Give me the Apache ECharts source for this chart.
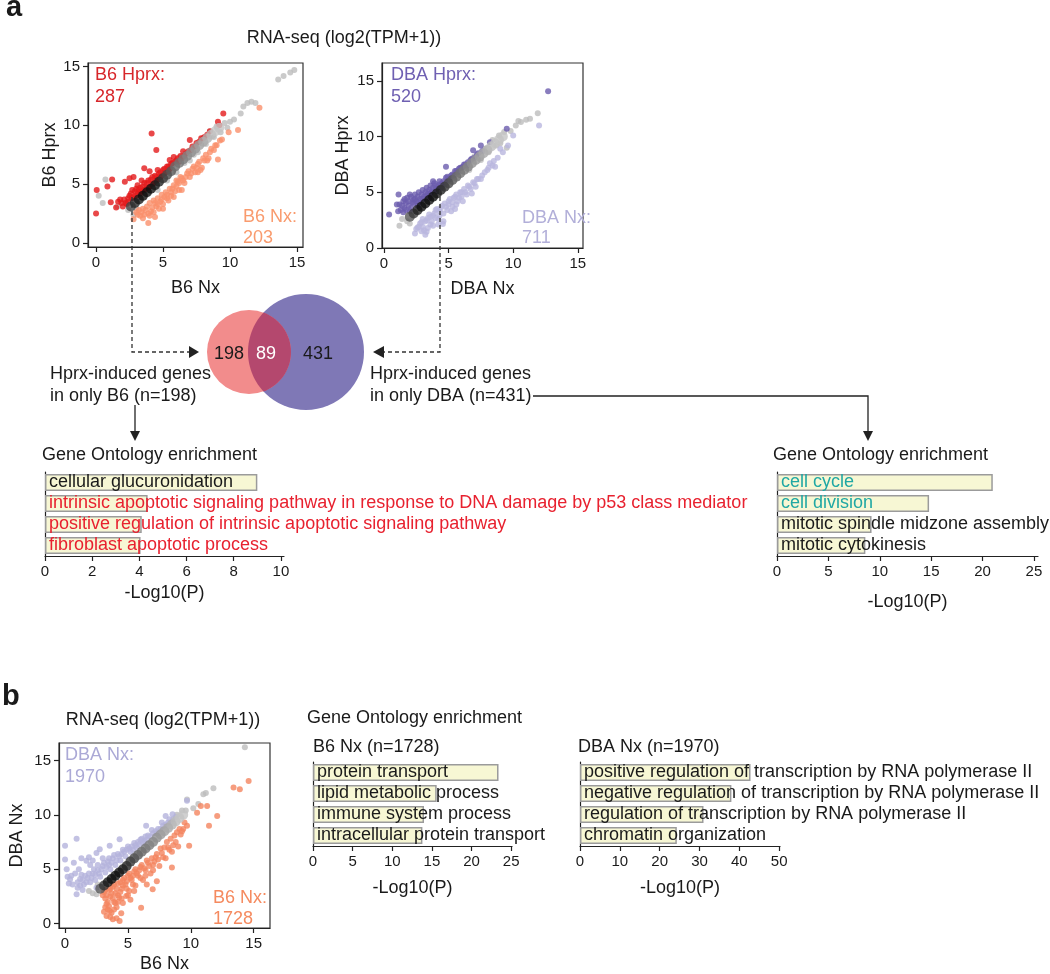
<!DOCTYPE html>
<html>
<head>
<meta charset="utf-8">
<script src="https://cdn.jsdelivr.net/npm/echarts@6/dist/echarts.min.js"></script>
<style>
  html, body { margin: 0; padding: 0; background: #fff; }
  #main { width: 1050px; height: 974px; }
</style>
</head>
<body>
<div id="main"></div>
<script>
// ---- data ----
var scatterTicks = [0, 5, 10, 15];

// a: B6 Hprx vs B6 Nx
var b6Gray = [[0.2,4.0],[0.5,3.4],[0.7,5.4],[1.6,3.1],[2.4,2.8],[2.8,2.4],[3.0,2.9],[3.4,4.4],[6.0,6.0],[6.6,6.8],[7.0,7.0],[7.3,7.5],[7.6,7.7],[7.9,8.8],[8.2,8.4],[8.5,9.5],[8.8,9.0],[9.0,9.9],[9.3,9.4],[9.6,10.2],[9.8,9.8],[10.0,10.3],[10.3,10.5],[10.8,11.0],[11.0,11.6],[11.3,11.9],[11.6,12.0],[11.9,11.9],[13.6,13.9],[14.0,14.2],[14.5,14.5],[14.8,14.7],[5.3,5.3],[5.7,6.6],[4.6,4.5],[6.3,7.3]];
var b6Up = [[0,2.5],[0.05,4.5],[0.85,4.8],[1.1,3.45],[1.2,5.4],[1.65,3.5],[1.9,3.4],[2.1,3.7],[2.15,5.2],[2.3,3.3],[2.5,5.5],[2.4,3.8],[2.6,4.2],[2.8,5.6],[2.7,3.8],[2.9,4.4],[3.0,4.0],[3.1,4.9],[3.2,4.5],[3.3,4.2],[3.4,5.3],[3.5,4.8],[3.6,6.35],[3.6,4.5],[3.8,5.1],[3.9,4.7],[4.0,6.1],[4.1,5.4],[4.2,5.0],[4.15,9.3],[4.4,5.7],[4.5,7.9],[4.5,5.3],[4.6,6.2],[4.7,5.9],[4.8,5.6],[5.0,6.2],[5.1,5.9],[5.3,6.5],[5.4,6.1],[5.5,7.05],[5.6,6.7],[5.8,7.3],[5.9,6.9],[6.1,7.2],[6.3,7.4],[6.5,7.8],[6.7,7.6],[7.0,8.75],[7.2,8.2],[7.5,8.5],[7.85,8.9],[8.1,9.0],[8.5,9.5],[9.1,10.3],[9.2,10.0],[9.5,11.0],
    [2.4,3.5],[2.5,4.0],[2.7,4.5],[2.8,3.9],[3.0,4.6],[3.1,4.2],[3.3,4.7],[3.4,4.4],[3.6,5.1],[3.7,4.6],[3.9,5.3],[4.0,4.8],[4.2,5.6],[4.3,5.1],[4.5,5.6],[4.6,5.4],[4.8,6.0],[4.9,5.7],[5.1,6.3],[5.2,6.0],[5.4,6.5],[5.5,6.3],[5.7,6.8],[6.0,7.0],[6.2,6.9],[6.4,7.2],[6.6,7.4],[6.9,7.8],[7.1,7.9],[7.4,8.2],[7.7,8.6],[8.0,8.9],[8.3,9.2],[2.0,3.1],[2.2,3.4],[1.5,3.0],[1.8,3.7]];
var b6Down = [[2.8,2.0],[3.0,2.6],[3.3,2.3],[3.2,2.8],[3.5,2.9],[3.6,2.4],[3.8,3.1],[3.9,1.7],[4.0,3.4],[4.1,2.7],[4.3,2.6],[4.3,3.6],[4.5,3.1],[4.6,3.8],[4.8,3.5],[4.9,4.1],[5.0,3.3],[5.2,4.3],[5.3,3.8],[5.5,4.6],[5.6,4.0],[5.8,4.9],[6.0,4.8],[6.1,5.2],[6.2,4.5],[6.4,5.5],[6.6,5.1],[6.8,5.9],[7.0,5.6],[7.2,6.3],[7.4,6.0],[7.6,6.7],[7.9,6.4],[8.0,7.2],[8.3,7.0],[8.5,7.7],[8.8,7.9],[9.0,8.3],[9.1,7.1],[9.25,8.7],[9.4,8.8],[9.9,9.4],[10.6,9.6],[12.2,11.5],
    [3.1,2.4],[3.4,2.6],[3.7,2.8],[3.9,2.5],[4.2,3.0],[4.4,3.4],[4.6,3.3],[4.7,2.9],[4.9,3.7],[5.1,3.9],[5.3,4.1],[5.4,3.6],[5.6,4.3],[5.7,4.6],[5.9,4.4],[6.0,5.3],[6.2,5.1],[6.3,5.6],[6.5,5.3],[6.7,5.6],[6.9,6.1],[7.1,5.9],[7.3,6.5],[7.5,6.4],[7.7,6.9],[7.8,6.2],[8.1,7.0],[8.2,7.5],[8.4,7.2],[8.6,8.0],[8.9,8.3],[3.5,2.1],[4.0,2.3],[4.4,2.2],[5.0,2.9],[5.8,3.9],[6.4,4.5],[7.6,6.0]];
// [x, y, local density 0..1]
var b6Core = [[2.6,3.1,0.7],[2.9,3.4,0.85],[3.2,3.7,0.95],[3.5,4.0,1],[3.8,4.3,1],[4.1,4.6,1],[4.4,4.9,0.95],[4.7,5.2,0.9],[5.0,5.5,0.8],[5.3,5.8,0.7],[5.6,6.1,0.6],[5.9,6.5,0.5],[6.2,6.8,0.45],[6.5,7.1,0.4],[6.8,7.4,0.35],[7.1,7.7,0.3],[7.4,8.0,0.25],[7.7,8.3,0.2],[8.0,8.6,0.15],[8.3,8.9,0.1],[8.6,9.2,0.05],[8.9,9.5,0],[9.2,9.8,0]];

// a: DBA Hprx vs DBA Nx
var dbaGray = [[1.2,2.0],[1.4,2.6],[1.8,2.4],[2.0,2.2],[8.9,10.1],[9.3,10.4],[9.5,9.0],[9.8,10.5],[10.2,11.0],[10.4,11.4],[10.6,11.3],[11.0,11.5],[11.3,11.6],[11.9,12.1],[7.8,8.9],[8.1,8.6],[8.4,9.7],[8.7,9.2],[7.5,7.9],[6.6,7.0],[7.0,8.2],[9.0,9.4]];
var dbaUp = [[0.4,3.0],[1.13,4.8],[1.2,3.9],[1.3,3.4],[1.5,4.2],[1.6,3.6],[1.7,4.05],[1.8,4.5],[1.9,3.8],[2.0,3.3],[2.1,4.6],[2.2,4.1],[2.3,4.35],[2.4,4.8],[2.5,4.2],[2.6,3.8],[2.7,5.0],[2.8,4.4],[3.0,5.2],[3.1,4.6],[3.3,5.4],[3.4,4.9],[3.5,4.5],[3.6,5.6],[3.7,5.1],[3.8,6.0],[3.9,5.8],[4.0,5.3],[4.2,5.5],[4.3,6.0],[4.5,5.8],[4.8,7.3],[4.8,6.3],[5.0,6.1],[5.3,6.6],[5.6,6.9],[5.9,7.2],[6.2,7.5],[6.5,7.7],[6.9,8.76],[6.8,8.0],[7.2,8.4],[7.5,9.2],[7.6,8.7],[8.2,9.5],[9.5,10.7],[12.7,14.06],
    [1.4,3.8],[1.6,4.4],[1.7,3.4],[1.9,4.2],[2.0,4.8],[2.1,3.6],[2.3,4.0],[2.4,4.4],[2.6,4.6],[2.7,4.1],[2.9,4.8],[3.0,4.4],[3.2,5.0],[3.3,4.7],[3.5,5.2],[3.6,4.9],[3.8,5.4],[4.0,5.6],[4.1,5.1],[4.3,5.7],[4.4,5.4],[4.6,6.0],[4.7,5.7],[4.9,6.4],[5.1,6.2],[5.2,6.5],[5.4,6.5],[5.5,6.9],[5.7,6.8],[5.8,7.1],[6.0,7.2],[6.1,7.3],[6.3,7.5],[6.4,7.4],[6.7,7.9],[7.0,8.1],[7.3,8.5],[1.1,3.3],[1.0,3.9],[1.5,3.2]];
var dbaDown = [[2.4,1.3],[2.5,1.7],[2.6,1.85],[2.8,2.2],[3.0,2.6],[3.1,1.6],[3.2,1.2],[3.3,1.45],[3.3,2.5],[3.5,3.0],[3.6,2.1],[3.8,2.9],[4.0,3.4],[4.2,2.6],[4.3,3.3],[4.5,3.8],[4.56,2.15],[4.6,2.4],[4.8,3.7],[5.0,4.2],[5.2,3.3],[5.3,4.1],[5.5,4.6],[5.6,3.9],[5.8,4.5],[6.0,5.0],[6.1,4.2],[6.3,5.0],[6.6,5.5],[6.8,4.9],[7.0,5.8],[7.3,6.2],[7.6,6.5],[8.0,7.0],[8.2,7.6],[8.4,7.4],[8.8,8.1],[9.0,8.9],[9.2,8.6],[9.6,9.2],[10.0,10.1],[12.0,11.0],
    [2.7,1.9],[2.9,2.3],[3.0,1.9],[3.2,2.4],[3.4,2.7],[3.4,1.8],[3.6,2.8],[3.7,2.4],[3.9,3.1],[4.0,2.7],[4.1,3.5],[4.3,2.9],[4.4,3.6],[4.6,3.1],[4.7,4.0],[4.9,3.4],[5.0,3.9],[5.1,4.4],[5.3,3.7],[5.4,4.5],[5.6,4.8],[5.7,4.2],[5.9,5.0],[6.0,4.6],[6.2,5.3],[6.4,4.8],[6.5,5.6],[6.7,5.3],[6.9,5.9],[7.1,5.5],[7.2,6.2],[7.5,6.2],[7.8,6.8],[8.1,7.2],[8.5,7.8],[8.6,7.3],[3.8,2.0],[4.2,2.1],[5.5,3.5],[2.9,1.5]];
var dbaCore = [[2.0,2.8,0.6],[2.3,3.1,0.75],[2.6,3.4,0.9],[2.9,3.7,1],[3.2,4.0,1],[3.5,4.3,1],[3.8,4.6,1],[4.1,4.9,0.95],[4.4,5.2,0.9],[4.7,5.5,0.8],[5.0,5.8,0.7],[5.3,6.1,0.6],[5.6,6.4,0.5],[5.9,6.7,0.45],[6.2,7.0,0.4],[6.5,7.3,0.35],[6.8,7.6,0.3],[7.1,7.9,0.25],[7.4,8.2,0.2],[7.7,8.5,0.15],[8.0,8.8,0.1],[8.3,9.1,0.05],[8.6,9.4,0],[8.9,9.7,0],[9.2,10.0,0]];

// b: DBA Nx vs B6 Nx
var nxGray = [[1.9,3.0],[2.2,2.8],[2.5,2.7],[2.6,3.6],[9.6,10.4],[9.7,11.4],[10.2,10.6],[10.6,11.0],[11.0,11.9],[11.2,12.0],[11.8,12.45],[14.3,16.2],[8.9,10.0],[9.3,10.4]];
var nxDbaHigh = [[0,7.15],[0.92,7.8],[0,5.9],[0.13,5.0],[0.4,4.08],[0.92,2.7],[0.6,3.6],[1.0,3.3],[0.8,4.6],[1.2,4.1],[1.3,4.5],[1.4,3.1],[1.5,3.6],[1.7,5.77],[1.8,4.2],[2.0,3.8],[2.0,5.4],[2.2,4.6],[2.4,4.0],[2.5,6.5],[2.5,3.3],[2.6,4.9],[2.76,6.84],[2.8,4.3],[3.0,5.3],[3.0,6.0],[3.2,4.7],[3.4,5.7],[3.55,7.15],[3.6,5.0],[3.8,6.0],[4.0,5.4],[4.2,6.4],[4.34,7.76],[4.4,5.8],[4.6,6.8],[4.8,6.2],[5.0,7.1],[5.2,6.6],[5.5,7.4],[5.7,7.0],[6.0,7.7],[6.3,7.6],[6.45,9.0],[6.6,8.1],[7.0,8.3],[7.4,8.7],[7.8,9.0],[8.0,9.9],[8.2,9.3],[8.55,10.06],[8.6,9.6],[9.7,11.3],
    [1.0,3.8],[1.2,3.5],[1.4,4.0],[1.6,4.4],[1.7,3.8],[1.9,4.6],[2.1,4.2],[2.3,5.0],[2.4,4.5],[2.6,5.4],[2.7,4.6],[2.9,5.0],[3.1,5.6],[3.3,5.2],[3.5,6.0],[3.5,5.4],[3.7,5.6],[3.9,6.3],[4.1,5.8],[4.3,6.2],[4.5,6.4],[4.7,6.6],[4.9,6.8],[5.1,6.9],[5.3,7.1],[5.4,6.8],[5.6,7.2],[5.8,7.5],[5.9,7.3],[6.1,7.8],[6.2,7.4],[6.4,8.0],[6.5,7.7],[6.8,8.0],[6.9,8.6],[7.2,8.5],[7.3,8.3],[7.6,8.7],[7.7,9.3],[8.0,9.1],[8.3,9.6],[8.4,9.3],[8.8,9.8],[0.3,3.7],[0.5,4.4],[0.2,4.3],[1.1,5.0],[0.7,5.6],[1.9,6.1],[2.2,5.8],[1.3,6.0]];
var nxB6High = [[3.1,2.9],[3.2,2.3],[3.3,1.8],[3.5,3.1],[3.6,2.5],[3.8,3.4],[3.9,2.0],[4.0,2.8],[4.2,3.7],[4.3,2.4],[4.5,3.2],[4.6,4.0],[4.8,3.6],[5.0,4.4],[5.1,3.0],[5.3,4.0],[5.5,4.8],[5.6,3.5],[5.8,4.4],[6.0,5.2],[6.2,4.0],[6.4,4.9],[6.6,5.6],[6.8,4.6],[7.0,5.4],[7.2,6.1],[7.5,5.3],[7.7,6.5],[8.0,6.0],[8.2,7.0],[8.5,6.6],[8.8,7.5],[9.0,7.1],[9.2,8.2],[9.4,8.7],[9.7,9.0],[3.4,1.3],[3.7,1.0],[4.1,1.5],[5.2,2.2],[4.6,1.9],[6.5,3.6],[7.3,3.9],[3.3,0.7],[3.8,0.4],[4.34,0.25],[3.55,1.17],[4.47,0.95],[4.87,2.55],[6.05,1.47],[6.97,3.16],[8.5,5.15],[9.87,7.15],[10.5,10.2],[10.8,10.8],[11.3,10.8],[12.1,9.9],[11.45,9.0],[13.4,12.5],[13.9,12.36],[14.6,13.1],
    [3.0,2.6],[3.2,3.1],[3.3,2.6],[3.4,2.0],[3.6,3.2],[3.7,2.8],[3.8,2.3],[3.9,3.6],[4.1,3.2],[4.2,2.6],[4.4,3.8],[4.4,2.9],[4.6,3.5],[4.7,4.2],[4.9,3.9],[4.9,3.2],[5.1,4.6],[5.2,4.2],[5.4,4.4],[5.4,3.6],[5.6,5.0],[5.7,4.6],[5.9,4.9],[6.0,4.2],[6.1,5.4],[6.3,5.1],[6.4,4.4],[6.5,5.8],[6.7,5.3],[6.9,6.0],[7.0,4.9],[7.1,5.7],[7.3,6.4],[7.4,5.9],[7.6,6.9],[7.8,6.1],[7.9,7.0],[8.1,7.5],[8.3,6.8],[8.4,7.8],[8.6,7.2],[8.7,8.1],[8.9,8.4],[9.1,8.7],[9.3,8.5],[9.5,9.3],[3.2,1.5],[3.5,1.6],[3.9,1.3],[4.2,2.0],[4.5,2.3],[5.0,2.6],[5.5,3.0],[3.1,1.1],[3.6,0.6],[4.1,0.5],[4.0,1.9]];
var nxCore = [[2.8,3.2,0.6],[3.1,3.5,0.8],[3.4,3.8,0.95],[3.7,4.1,1],[4.0,4.4,1],[4.3,4.7,1],[4.6,5.0,0.95],[4.9,5.3,0.9],[5.2,5.7,0.8],[5.5,6.0,0.7],[5.8,6.3,0.6],[6.1,6.6,0.5],[6.4,6.9,0.45],[6.7,7.2,0.4],[7.0,7.5,0.35],[7.3,7.9,0.3],[7.6,8.2,0.25],[7.9,8.5,0.2],[8.2,8.8,0.15],[8.5,9.1,0.1],[8.8,9.4,0.05],[9.1,9.7,0],[9.4,10.0,0]];

// Gene Ontology enrichment, -Log10(P)
var goB6HprxTerms = ['cellular glucuronidation', 'intrinsic apoptotic signaling pathway in response to DNA damage by p53 class mediator', 'positive regulation of intrinsic apoptotic signaling pathway', 'fibroblast apoptotic process'];
var goB6HprxValues = [9.0, 4.35, 4.1, 4.05];
var goB6HprxTicks = [0, 2, 4, 6, 8, 10];

var goDbaHprxTerms = ['cell cycle', 'cell division', 'mitotic spindle midzone assembly', 'mitotic cytokinesis'];
var goDbaHprxValues = [21.0, 14.8, 9.2, 8.6];
var goDbaHprxTicks = [0, 5, 10, 15, 20, 25];

var goB6NxTerms = ['protein transport', 'lipid metabolic process', 'immune system process', 'intracellular protein transport'];
var goB6NxValues = [23.4, 15.6, 14.0, 13.8];
var goB6NxTicks = [0, 5, 10, 15, 20, 25];

var goDbaNxTerms = ['positive regulation of transcription by RNA polymerase II', 'negative regulation of transcription by RNA polymerase II', 'regulation of transcription by RNA polymerase II', 'chromatin organization'];
var goDbaNxValues = [42.8, 38.0, 31.0, 24.3];
var goDbaNxTicks = [0, 10, 20, 30, 40, 50];

var vennCounts = { b6Only: 198, both: 89, dbaOnly: 431 };

// ---- chart ----
var FONT = '"Liberation Sans", Arial, Helvetica, sans-serif';
var RED = '#E8212F', TEAL = '#20A8A4', INK = '#1a1a1a';

var myChart = echarts.init(document.getElementById('main'));

function valueAxis(gi, min, max, ticks, name, gap) {
    return {
        type: 'value', gridIndex: gi, min: min, max: max,
        name: name, nameLocation: 'middle', nameGap: gap,
        nameTextStyle: { fontSize: 18, color: INK, fontFamily: FONT },
        splitLine: { show: false },
        axisLine: { show: true, onZero: false, lineStyle: { color: '#222', width: 1.2 } },
        axisTick: { show: true, length: 5, customValues: ticks, lineStyle: { color: '#222', width: 1.2 } },
        axisLabel: { customValues: ticks, fontSize: 15, color: INK, margin: 8, fontFamily: FONT }
    };
}

function catAxis(gi, terms) {
    return {
        type: 'category', gridIndex: gi, data: terms, inverse: true,
        axisLine: { show: true, lineStyle: { color: '#222', width: 1.2 } },
        axisTick: { show: false }, axisLabel: { show: false }, splitLine: { show: false }
    };
}

function dots(gi, data, color, size) {
    return { type: 'scatter', xAxisIndex: gi, yAxisIndex: gi, data: data, symbolSize: size,
             itemStyle: { color: color }, silent: true };
}

function goBars(gi, terms, values, labelColors) {
    return {
        type: 'bar', xAxisIndex: gi, yAxisIndex: gi, barWidth: 17, silent: true,
        data: values.map(function (v, i) {
            return { value: v, label: { color: labelColors[i] } };
        }),
        itemStyle: { color: '#F7F7D4', borderColor: '#9B9B9B', borderWidth: 1.5 },
        label: {
            show: true, position: 'insideLeft', distance: 4, fontSize: 18, fontFamily: FONT,
            formatter: function (p) { return terms[p.dataIndex]; }
        }
    };
}

var grids = [
    { left: 88, top: 63, width: 215, height: 184 },   // a B6
    { left: 382, top: 63, width: 201, height: 185 },  // a DBA
    { left: 59, top: 743, width: 211, height: 186 },  // b
    { left: 45, top: 472, width: 239, height: 84 },   // GO B6 Hprx
    { left: 777, top: 472, width: 261, height: 84 },  // GO DBA Hprx
    { left: 313, top: 762, width: 199, height: 84 },  // GO B6 Nx
    { left: 580, top: 762, width: 200, height: 84 }   // GO DBA Nx
].map(function (g, i) {
    return Object.assign({ show: i < 3, borderColor: '#333', borderWidth: 1.2, containLabel: false }, g);
});

var xAxes = [
    valueAxis(0, -0.6, 15.45, scatterTicks, 'B6 Nx', 32),
    valueAxis(1, -0.15, 15.4, scatterTicks, 'DBA Nx', 32),
    valueAxis(2, -0.48, 16.3, scatterTicks, 'B6 Nx', 27),
    valueAxis(3, 0, 10.13, goB6HprxTicks, '-Log10(P)', 28),
    valueAxis(4, 0, 25.4, goDbaHprxTicks, '-Log10(P)', 37),
    valueAxis(5, 0, 25.1, goB6NxTicks, '-Log10(P)', 33),
    valueAxis(6, 0, 50.2, goDbaNxTicks, '-Log10(P)', 33)
];
var yAxes = [
    valueAxis(0, -0.35, 15.3, scatterTicks, 'B6 Hprx', 29),
    valueAxis(1, 0, 16.6, scatterTicks, 'DBA Hprx', 30),
    valueAxis(2, -0.4, 16.6, scatterTicks, 'DBA Nx', 33),
    catAxis(3, goB6HprxTerms),
    catAxis(4, goDbaHprxTerms),
    catAxis(5, goB6NxTerms),
    catAxis(6, goDbaNxTerms)
];

var series = [
    dots(0, b6Gray, '#BDBDBD', 6), dots(0, b6Up, '#E41A1C', 6), dots(0, b6Down, '#FA906B', 6),
    dots(1, dbaGray, '#BDBDBD', 6), dots(1, dbaUp, '#6B5CAE', 6), dots(1, dbaDown, '#B9B6DE', 6),
    dots(2, nxGray, '#BDBDBD', 6), dots(2, nxDbaHigh, '#B4B3DC', 6), dots(2, nxB6High, '#F4845F', 6),
    dots(0, b6Core, '#555', 10), dots(1, dbaCore, '#555', 10), dots(2, nxCore, '#555', 10),
    goBars(3, goB6HprxTerms, goB6HprxValues, [INK, RED, RED, RED]),
    goBars(4, goDbaHprxTerms, goDbaHprxValues, [TEAL, TEAL, INK, INK]),
    goBars(5, goB6NxTerms, goB6NxValues, [INK, INK, INK, INK]),
    goBars(6, goDbaNxTerms, goDbaNxValues, [INK, INK, INK, INK])
];

function txt(x, y, s, opt) {
    return { type: 'text', x: x, y: y, silent: true, z: 10,
             style: Object.assign({ text: s, fontSize: 18, fontFamily: FONT, fill: INK,
                                    align: 'left', verticalAlign: 'middle' }, opt || {}) };
}
function dashed(points) {
    return { type: 'polyline', silent: true, z: 5, shape: { points: points },
             style: { stroke: '#333', lineWidth: 1.3, lineDash: [4, 3], fill: null } };
}
function solid(points) {
    return { type: 'polyline', silent: true, z: 5, shape: { points: points },
             style: { stroke: '#222', lineWidth: 1.3, fill: null } };
}
function head(points) {
    return { type: 'polygon', silent: true, z: 5, shape: { points: points }, style: { fill: '#222' } };
}

// overlap region of the two Venn circles, traced along both arcs
function lens(cx1, r1, cx2, r2, cy) {
    var d = cx2 - cx1;
    var a = (d * d + r1 * r1 - r2 * r2) / (2 * d);
    var t1 = Math.acos(a / r1), t2 = Math.acos((d - a) / r2);
    var pts = [], i, t;
    for (i = 0; i <= 30; i++) {
        t = -t1 + 2 * t1 * i / 30;
        pts.push([cx1 + r1 * Math.cos(t), cy + r1 * Math.sin(t)]);
    }
    for (i = 0; i <= 30; i++) {
        t = Math.PI - t2 + 2 * t2 * i / 30;
        pts.push([cx2 + r2 * Math.cos(t), cy + r2 * Math.sin(t)]);
    }
    return pts;
}

var graphic = [
    txt(6, 8, 'a', { fontSize: 29, fontWeight: 'bold' }),
    txt(2, 697, 'b', { fontSize: 29, fontWeight: 'bold' }),
    txt(344, 38, 'RNA-seq (log2(TPM+1))', { align: 'center' }),
    txt(163, 720, 'RNA-seq (log2(TPM+1))', { align: 'center' }),

    txt(95, 75, 'B6 Hprx:', { fill: '#D7262A' }), txt(95, 97, '287', { fill: '#D7262A' }),
    txt(243, 217, 'B6 Nx:', { fill: '#F99B6E' }), txt(243, 238, '203', { fill: '#F99B6E' }),
    txt(391, 75, 'DBA Hprx:', { fill: '#6F60B2' }), txt(391, 97, '520', { fill: '#6F60B2' }),
    txt(522, 218, 'DBA Nx:', { fill: '#B2AFD9' }), txt(522, 238, '711', { fill: '#B2AFD9' }),
    txt(65, 755, 'DBA Nx:', { fill: '#ABA9D6' }), txt(65, 777, '1970', { fill: '#ABA9D6' }),
    txt(213, 898, 'B6 Nx:', { fill: '#F58A5F' }), txt(213, 919, '1728', { fill: '#F58A5F' }),

    // Venn
    { type: 'circle', silent: true, z: 3, shape: { cx: 306, cy: 352, r: 58 }, style: { fill: '#7F78B6' } },
    { type: 'circle', silent: true, z: 3, shape: { cx: 249, cy: 352, r: 42 }, style: { fill: '#F28C8C' } },
    { type: 'polygon', silent: true, z: 4, shape: { points: lens(249, 42, 306, 58, 352) },
      style: { fill: '#B4486E' } },
    txt(229, 354, String(vennCounts.b6Only), { align: 'center' }),
    txt(266, 354, String(vennCounts.both), { align: 'center', fill: '#fff' }),
    txt(318, 354, String(vennCounts.dbaOnly), { align: 'center' }),
    txt(50, 374, 'Hprx-induced genes'), txt(50, 396, 'in only B6 (n=198)'),
    txt(370, 374, 'Hprx-induced genes'), txt(370, 396, 'in only DBA (n=431)'),

    dashed([[132, 197], [132, 352], [190, 352]]), head([[189, 346], [199, 352], [189, 358]]),
    dashed([[440, 190], [440, 352], [384, 352]]), head([[384, 346], [373, 352], [384, 358]]),
    solid([[135, 405], [135, 432]]), head([[130, 431], [140, 431], [135, 441]]),
    solid([[533, 396], [868, 396], [868, 432]]), head([[863, 431], [873, 431], [868, 441]]),

    txt(42, 455, 'Gene Ontology enrichment'),
    txt(773, 455, 'Gene Ontology enrichment'),
    txt(307, 718, 'Gene Ontology enrichment'),
    txt(313, 747, 'B6 Nx (n=1728)'),
    txt(578, 747, 'DBA Nx (n=1970)')
];

myChart.setOption({
    animation: false,
    textStyle: { fontFamily: FONT },
    grid: grids,
    xAxis: xAxes,
    yAxis: yAxes,
    visualMap: {
        show: false, type: 'continuous', seriesIndex: [9, 10, 11], dimension: 2,
        min: 0, max: 1, inRange: { color: ['#C4C4C4', '#101010'] }
    },
    series: series,
    graphic: graphic
});
</script>
</body>
</html>
